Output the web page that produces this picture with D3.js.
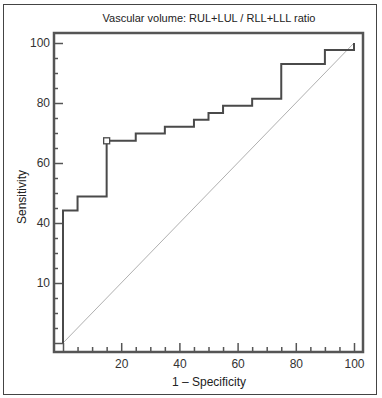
<!DOCTYPE html>
<html><head><meta charset="utf-8">
<script src="https://cdn.jsdelivr.net/npm/d3@7"></script>
<style>
html,body{margin:0;padding:0;background:#fff;}
svg{display:block;font-family:"Liberation Sans",Arial,sans-serif;}
</style></head>
<body>
<svg id="c" width="382" height="398"></svg>
<script>
// ROC step curve (1 - specificity, sensitivity)
const fpr = [0, 0, 5, 5, 15, 15, 25, 25, 35, 35, 45, 45, 50, 50, 55, 55, 65, 65, 75, 75, 90, 90, 100, 100];
const tpr = [0, 44.2, 44.2, 48.8, 48.8, 67.4, 67.4, 69.8, 69.8, 72.1, 72.1, 74.4, 74.4, 76.7, 76.7, 79.1, 79.1, 81.4, 81.4, 93.0, 93.0, 97.7, 97.7, 100];
const markerPoint = [15, 67.4];
const xTickValues = [0, 20, 40, 60, 80, 100];
const xTickLabels = ["", "20", "40", "60", "80", "100"];
const yTickValues = [0, 20, 40, 60, 80, 100];
const yTickLabels = ["", "10", "40", "60", "80", "100"];
const minorTicks = [5, 10, 15, 25, 30, 35, 45, 50, 55, 65, 70, 75, 85, 90, 95];
const title = "Vascular volume: RUL+LUL / RLL+LLL ratio";
const xLabel = "1 \u2013 Specificity";
const yLabel = "Sensitivity";

const svg = d3.select("#c");
const x = d3.scaleLinear().domain([0, 100]).range([63, 354]);
const y = d3.scaleLinear().domain([0, 100]).range([343, 43]);

// outer border
svg.append("rect").attr("x", 3.5).attr("y", 4.5).attr("width", 373).attr("height", 390)
  .attr("fill", "none").attr("stroke", "#444").attr("stroke-width", 1);

// title
svg.append("text").attr("x", 209).attr("y", 22).attr("text-anchor", "middle")
  .attr("font-size", 11).attr("fill", "#222").text(title);

// diagonal
svg.append("line").attr("x1", x(0)).attr("y1", y(0)).attr("x2", x(100)).attr("y2", y(100))
  .attr("stroke", "#b0b0b0").attr("stroke-width", 1);

// axes
const tickColor = "#555";
const yMajor = svg.append("g").attr("transform", "translate(63,0)")
  .call(d3.axisLeft(y).tickValues(yTickValues).tickSize(9).tickPadding(4)
    .tickFormat((d, i) => yTickLabels[i]));
const yMinor = svg.append("g").attr("transform", "translate(58,0)")
  .call(d3.axisLeft(y).tickValues(minorTicks).tickSize(4).tickFormat(""));
const xMajor = svg.append("g").attr("transform", "translate(0,343)")
  .call(d3.axisBottom(x).tickValues(xTickValues).tickSize(9).tickPadding(7)
    .tickFormat((d, i) => xTickLabels[i]));
const xMinor = svg.append("g").attr("transform", "translate(0,347)")
  .call(d3.axisBottom(x).tickValues(minorTicks).tickSize(5).tickFormat(""));
[yMajor, yMinor, xMajor, xMinor].forEach(g => {
  g.select(".domain").remove();
  g.selectAll(".tick line").attr("stroke", tickColor).attr("stroke-width", 1.5);
  g.selectAll(".tick text").attr("font-size", 12).attr("fill", "#333")
    .attr("font-family", "'Liberation Sans', Arial, sans-serif");
});

// frame
svg.append("rect").attr("x", 54).attr("y", 33).attr("width", 309).attr("height", 319)
  .attr("fill", "none").attr("stroke", "#555").attr("stroke-width", 2.5);

// ROC curve
const pts = fpr.map((d, i) => [d, tpr[i]]);
svg.append("path").datum(pts)
  .attr("d", d3.line().x(d => x(d[0])).y(d => y(d[1])))
  .attr("fill", "none").attr("stroke", "#4a4a4a").attr("stroke-width", 2);

// marker
svg.append("rect").attr("x", x(markerPoint[0]) - 3).attr("y", y(markerPoint[1]) - 3)
  .attr("width", 6).attr("height", 6).attr("fill", "#fff").attr("stroke", "#4a4a4a").attr("stroke-width", 1.3);

// axis labels
svg.append("text").attr("x", 209).attr("y", 386).attr("text-anchor", "middle")
  .attr("font-size", 12).attr("fill", "#222").text(xLabel);
svg.append("text").attr("transform", "translate(26,197) rotate(-90)").attr("text-anchor", "middle")
  .attr("font-size", 12).attr("fill", "#222").text(yLabel);
</script>
</body></html>
